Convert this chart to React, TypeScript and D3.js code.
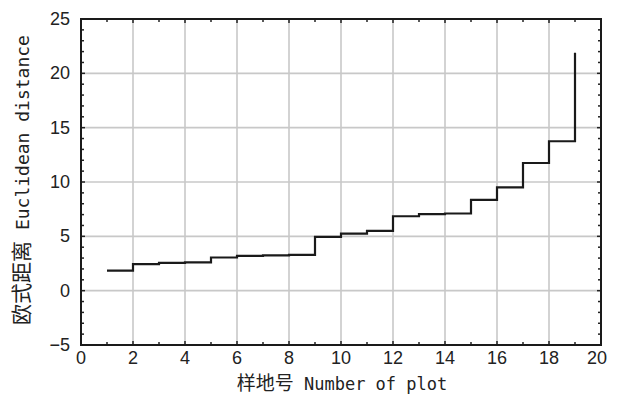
import * as d3 from 'd3';
import React from 'react';

// plot number vs. sorted euclidean distance
const plots = [1, 2, 3, 4, 5, 6, 7, 8, 9, 10, 11, 12, 13, 14, 15, 16, 17, 18, 19];
const distance = [1.85, 2.45, 2.55, 2.6, 3.05, 3.2, 3.25, 3.3, 4.95, 5.25, 5.5, 6.85, 7.05, 7.1, 8.35, 9.5, 11.75, 13.75, 21.9];
const xTicks = [0, 2, 4, 6, 8, 10, 12, 14, 16, 18, 20];
const yTicks = [-5, 0, 5, 10, 15, 20, 25];
const minorX = d3.range(0, 21, 1);
const minorY = d3.range(-5, 26, 1);

const W = 617;
const H = 394;
const left = 81;
const right = 601;
const top = 19;
const bottom = 345;

const tickFont = '"Liberation Sans", Arial, sans-serif';
const monoFont = '"DejaVu Sans Mono", "Liberation Mono", monospace';
const cjkFont = '"Noto Sans CJK SC", sans-serif';

function App() {
  const x = d3.scaleLinear().domain([0, 20]).range([left, right]);
  const y = d3.scaleLinear().domain([-5, 25]).range([bottom, top]);

  const pts: [number, number][] = plots.map((p, i) => [p, distance[i]]);
  const line = d3.line<[number, number]>()
    .x((d) => x(d[0]))
    .y((d) => y(d[1]))
    .curve(d3.curveStepAfter);

  return (
    <svg width={W} height={H} style={{ position: 'absolute', left: 0, top: 0, background: '#fff' }}>
      {/* grid */}
      {xTicks.slice(1, -1).map((t) => (
        <line key={'gx' + t} x1={x(t)} x2={x(t)} y1={top} y2={bottom} stroke="#c8c8c8" strokeWidth={1.6} />
      ))}
      {yTicks.slice(1, -1).map((t) => (
        <line key={'gy' + t} x1={left} x2={right} y1={y(t)} y2={y(t)} stroke="#c8c8c8" strokeWidth={1.6} />
      ))}

      {/* minor / major ticks on all four sides */}
      {minorX.map((t) => {
        const len = t % 2 === 0 ? 4 : 3;
        return (
          <g key={'tx' + t} stroke="#222" strokeWidth={1.5}>
            <line x1={x(t)} x2={x(t)} y1={bottom} y2={bottom - len} />
            <line x1={x(t)} x2={x(t)} y1={top} y2={top + len} />
          </g>
        );
      })}
      {minorY.map((t) => {
        const len = t % 5 === 0 ? 4 : 3;
        return (
          <g key={'ty' + t} stroke="#222" strokeWidth={1.5}>
            <line x1={left} x2={left + len} y1={y(t)} y2={y(t)} />
            <line x1={right} x2={right - len} y1={y(t)} y2={y(t)} />
          </g>
        );
      })}

      <rect x={left} y={top} width={right - left} height={bottom - top} fill="none" stroke="#1a1a1a" strokeWidth={2} />

      <path d={line(pts) || ''} fill="none" stroke="#1a1a1a" strokeWidth={2.2} />

      {/* tick labels */}
      {xTicks.map((t) => (
        <text key={'lx' + t} x={x(t) - (t === 20 ? 4 : 0)} y={364} textAnchor="middle" fontFamily={tickFont} fontSize={18} fill="#222">
          {t}
        </text>
      ))}
      {yTicks.map((t) => (
        <text key={'ly' + t} x={70} y={y(t) + 6} textAnchor="end" fontFamily={tickFont} fontSize={18} fill="#222">
          {t === -5 ? '\u22125' : t}
        </text>
      ))}

      {/* axis titles */}
      <text x={342} y={390} textAnchor="middle" fill="#222">
        <tspan fontFamily={cjkFont} fontSize={19}>样地号</tspan>
        <tspan fontFamily={monoFont} fontSize={17}> Number of plot</tspan>
      </text>
      <text transform="translate(29,180) rotate(-90)" textAnchor="middle" fill="#222">
        <tspan fontFamily={cjkFont} fontSize={21}>欧式距离</tspan>
        <tspan fontFamily={monoFont} fontSize={18}> Euclidean distance</tspan>
      </text>
    </svg>
  );
}

export default App;
